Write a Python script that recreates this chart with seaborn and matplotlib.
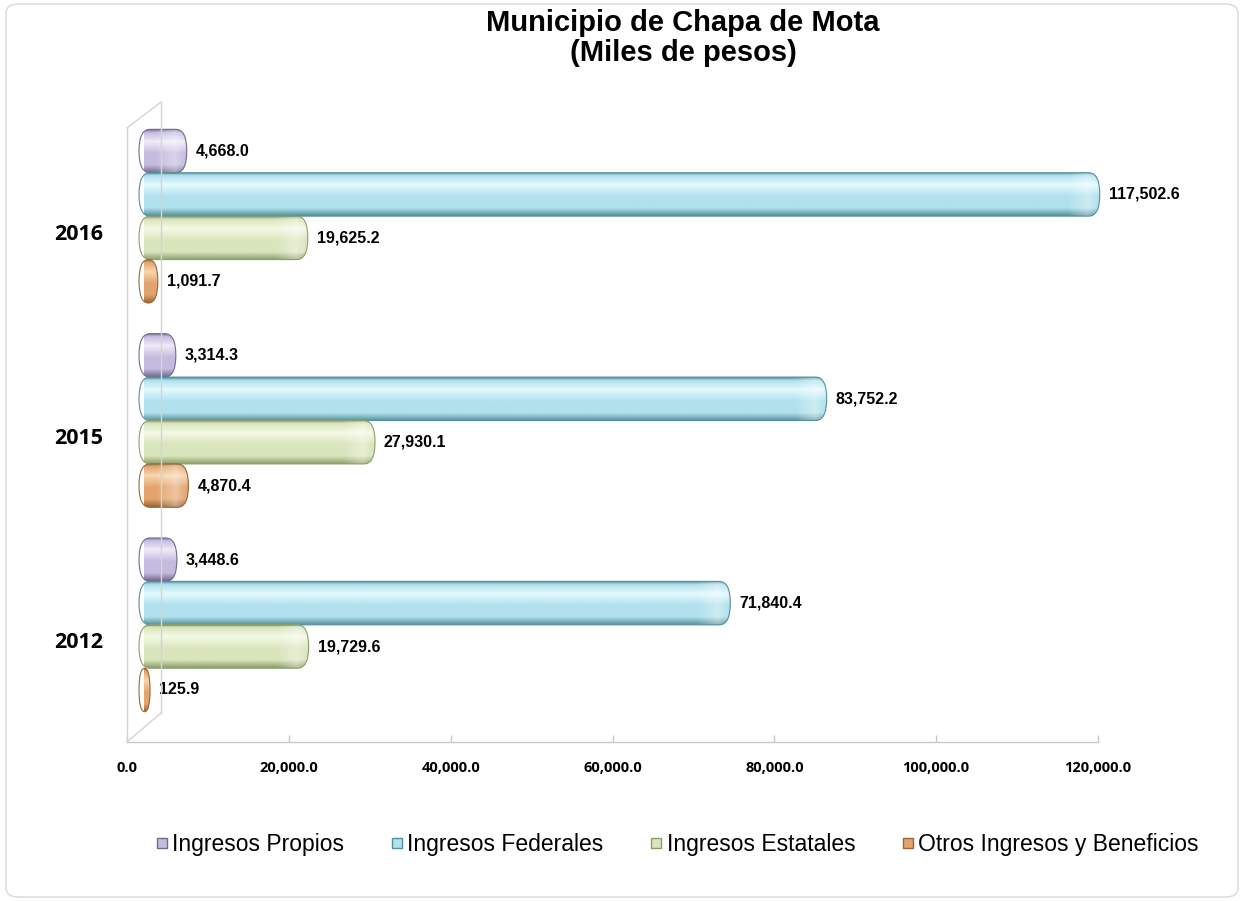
import numpy as np
import pandas as pd
import matplotlib
matplotlib.use('Agg')
import matplotlib.pyplot as plt
import seaborn as sns
from matplotlib.patches import FancyBboxPatch
from matplotlib.lines import Line2D
from matplotlib.colors import LinearSegmentedColormap
from matplotlib.transforms import ScaledTranslation, blended_transform_factory

# datos (miles de pesos)
years = ['2016', '2015', '2012']
series = ['Ingresos Propios', 'Ingresos Federales', 'Ingresos Estatales',
          'Otros Ingresos y Beneficios']
propios = [4668.0, 3314.3, 3448.6]
federales = [117502.6, 83752.2, 71840.4]
estatales = [19625.2, 27930.1, 19729.6]
otros = [1091.7, 4870.4, 125.9]
xticks = [0, 20000, 40000, 60000, 80000, 100000, 120000]

# colores: base, sombra, brillo
colors = ['#c4bbdf', '#b0e1ec', '#d9e5bc', '#e2a46c']
darks = ['#736a8c', '#56909e', '#8e9e6b', '#9a6636']
lights = ['#efecf9', '#e4fafe', '#f5f9e6', '#f9d6b0']

rows = []
for s, vals in zip(series, [propios, federales, estatales, otros]):
    for y, v in zip(years, vals):
        rows.append({'anio': y, 'serie': s, 'valor': v})
df = pd.DataFrame(rows)

W, H = 1245, 901
fig = plt.figure(figsize=(W / 100, H / 100), dpi=100)
fig.patch.set_facecolor('white')

def px(x, y):
    return (x / W, 1 - y / H)

ax = fig.add_axes([144 / W, 1 - 727 / H, 971 / W, 613 / H])
sns.barplot(data=df, x='valor', y='anio', hue='serie', order=years,
            hue_order=series, orient='h', palette=colors, width=0.85,
            gap=0, legend=False, ax=ax)
ax.set_xlim(0, 120000)
ax.set_ylim(2.5, -0.5)
ax.axis('off')

# cilindros: degradado vertical recortado con caja redondeada
x_per_px = 120000 / 971
cap = 5 * x_per_px
grad = np.linspace(0, 1, 64).reshape(-1, 1)
shine = np.zeros((1, 32, 4))
shine[..., :3] = 1.0
shine[0, :, 3] = np.concatenate([np.linspace(0, 0.35, 20), np.linspace(0.35, 0, 12)])
for k, cont in enumerate(ax.containers):
    cmap = LinearSegmentedColormap.from_list(
        'c%d' % k, [(0, darks[k]), (0.07, colors[k]), (0.28, lights[k]),
                    (0.55, colors[k]), (0.82, colors[k]), (1, darks[k])])
    for bar in cont:
        x0, y0 = bar.get_x(), bar.get_y()
        w, h = bar.get_width(), bar.get_height()
        bar.set_visible(False)
        bx, bw = x0 - cap, w + 2 * cap
        r = min(11 * x_per_px, bw / 2)
        m = (h / 2) / r
        box = FancyBboxPatch((bx, y0), bw, h,
                             boxstyle='round,pad=0,rounding_size=%f' % r,
                             mutation_aspect=m, facecolor='none',
                             edgecolor=darks[k], linewidth=0.8, zorder=4,
                             clip_on=False)
        ax.add_patch(box)
        im = ax.imshow(grad, cmap=cmap, aspect='auto', origin='upper',
                       extent=(bx, bx + bw, y0 + h, y0), zorder=2)
        im.set_clip_path(box)
        if bw > 4 * r:
            sw = 3 * r
            im2 = ax.imshow(shine, aspect='auto', origin='upper',
                            extent=(bx + bw - sw, bx + bw, y0 + h, y0),
                            zorder=3)
            im2.set_clip_path(box)
        ax.annotate(f'{w:,.1f}', (w, y0 + h / 2), xytext=(10, 0),
                    textcoords='offset points', ha='left', va='center',
                    fontsize=11.5, fontweight='bold',
                    family='Liberation Sans', color='#000000')

ax.set_xlim(0, 120000)
ax.set_ylim(2.5, -0.5)

# eje frontal desplazado (efecto 3D)
off = ScaledTranslation(-0.17, -0.15, fig.dpi_scale_trans)
tf = blended_transform_factory(ax.transData, ax.transAxes) + off
ax.plot([0, 120000], [0, 0], color='#c8c8c8', lw=1, transform=tf,
        clip_on=False)
ax.plot(xticks, [0] * len(xticks), ls='none', marker=2, ms=5,
        color='#c8c8c8', transform=tf, clip_on=False)
tl = blended_transform_factory(ax.transData, ax.transAxes) + \
    ScaledTranslation(-0.17, -0.41, fig.dpi_scale_trans)
for t in xticks:
    ax.text(t, 0, f'{t:,.1f}', transform=tl, ha='center', va='center',
            fontsize=10.5, fontweight='bold', family='Open Sans',
            color='#000000')

ty = blended_transform_factory(ax.transAxes, ax.transData) + \
    ScaledTranslation(0, -0.18, fig.dpi_scale_trans)
for i, yr in enumerate(years):
    ax.text(-41 / 971, i, yr, transform=ty, ha='right', va='center',
            fontsize=15.5, fontweight='bold', family='Open Sans',
            color='#000000')

# pared lateral
wall = '#d4d4d4'
for a, b in [((127, 742), (127, 128)), ((161, 713), (161, 102)),
             ((127, 128), (161, 102)), ((127, 742), (161, 713))]:
    fig.add_artist(Line2D([px(*a)[0], px(*b)[0]], [px(*a)[1], px(*b)[1]],
                          color=wall, lw=1, transform=fig.transFigure))

# marco del grafico
fig.add_artist(FancyBboxPatch(px(6, 897), (1238 - 6) / W, (897 - 4) / H,
                              boxstyle='round,pad=0,rounding_size=0.01',
                              transform=fig.transFigure, facecolor='none',
                              edgecolor='#d9d9d9', lw=1))

fig.text(683 / W, 1 - 38 / H, 'Municipio de Chapa de Mota\n(Miles de pesos)',
         ha='center', va='center', fontsize=21, fontweight='bold',
         family='Liberation Sans', linespacing=1.05)

handles = [Line2D([], [], ls='none', marker='s', ms=7, markerfacecolor=c,
                  markeredgecolor=d, markeredgewidth=1)
           for c, d in zip(colors, darks)]
fig.legend(handles, series, loc='center', bbox_to_anchor=(677 / W, 1 - 845 / H),
           ncol=4, frameon=False, handlelength=0.6, handletextpad=0.15,
           columnspacing=2.0, prop={'family': 'Liberation Sans', 'size': 16.5})

fig.savefig('out.png', dpi=100)
